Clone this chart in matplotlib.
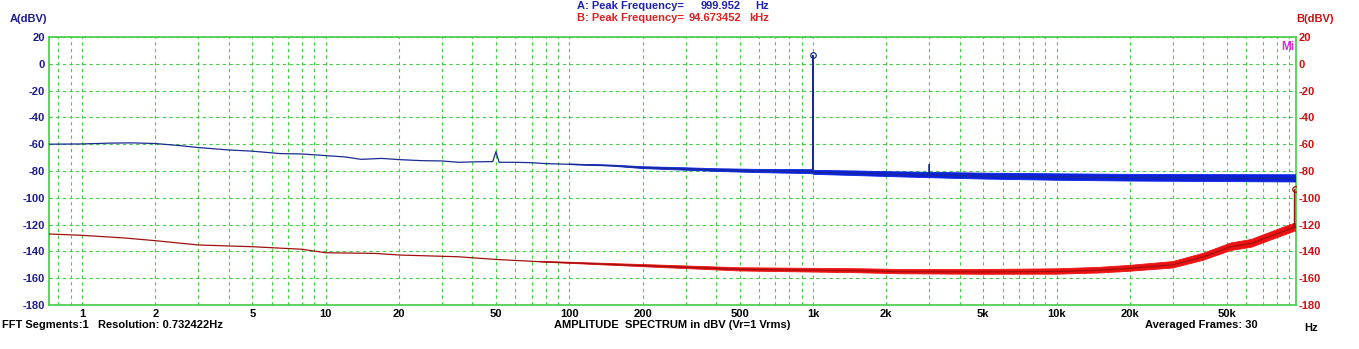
import matplotlib.pyplot as plt
import numpy as np

plt.rcParams['font.family'] = ['Liberation Sans', 'DejaVu Sans']
plt.rcParams['font.weight'] = 'bold'

# channel A (blue): frequency (Hz), level (dBV), noise spread (dB)
blue_freq = [0.732, 1.0, 1.3, 1.6, 2.0, 2.5, 3.0, 4.0, 5.0, 6.5, 8.0, 10, 12, 14, 17, 20,
             25, 30, 35, 40, 48.5, 50, 51.5, 60, 70, 80, 100, 150, 200, 300, 400, 600,
             997.0, 998.5, 999.2, 999.952, 1000.7, 1001.4, 1003.0, 1500, 2000, 2990,
             3000, 3010, 5000, 10000, 20000, 50000, 96000]
blue_level = [-60, -59.8, -59.2, -59.0, -59.5, -61, -62.5, -64.3, -65.2, -67, -67.3, -68.5,
              -69.5, -71.3, -70.6, -71.5, -72.3, -72.5, -73.5, -73.2, -73, -65.6, -73.5,
              -73.5, -73.8, -74.5, -75, -76, -77.5, -78.5, -79.3, -80,
              -80.5, -70, -33, 6.3, -33, -70, -81, -81.7, -82.3, -83,
              -75, -83, -83.8, -84.5, -85, -85.3, -85.5]
blue_spread = [0, 0, 0, 0, 0, 0, 0, 0, 0, 0, 0, 0, 0, 0, 0, 0,
               0, 0, 0, 0, 0, 0, 0, 0, 0, 0, 0.2, 0.4, 0.7, 0.9, 1.0, 1.2,
               1.5, 0, 0, 0, 0, 0, 1.5, 1.7, 1.8, 2.0,
               0, 2.0, 2.2, 2.4, 2.5, 2.6, 2.7]

# channel B (red)
red_freq = [0.732, 1.0, 1.5, 2.0, 3.0, 5.0, 8.0, 10, 16, 20, 35, 50, 76, 100, 200, 500,
            1500, 2300, 5000, 10000, 15000, 20000, 30000, 40000, 52000, 63000, 81000,
            94600, 94673.452, 94750, 96000]
red_level = [-127, -128, -130, -132, -135.2, -136.5, -138.4, -141, -141.5, -142.7, -144,
             -146, -147.7, -148.5, -150.6, -153.4, -154.4, -155.1, -155.3, -155, -154,
             -152.6, -150, -144, -136.5, -134, -126.5, -122, -93.7, -122, -122]
red_spread = [0, 0, 0, 0, 0, 0, 0, 0, 0, 0, 0, 0, 0.2, 0.4, 0.8, 1.2,
              1.5, 1.6, 1.8, 2.0, 2.1, 2.2, 2.4, 2.6, 2.8, 2.9, 3.0,
              3.0, 0, 3.0, 3.0]

peak_a = (999.952, 6.3)
peak_b = (94673.452, -93.7)

xtick_labels = {1: '1', 2: '2', 5: '5', 10: '10', 20: '20', 50: '50', 100: '100',
                200: '200', 500: '500', 1000: '1k', 2000: '2k', 5000: '5k',
                10000: '10k', 20000: '20k', 50000: '50k'}
yticks = list(range(-180, 21, 20))

W, H = 1359, 349
FS = 8
fig = plt.figure(figsize=(W / 100, H / 100), dpi=100)
ax = fig.add_axes([49 / W, 1 - 305 / H, (1296 - 49) / W, (305 - 37) / H])

green = '#44cc44'
navy = '#1c1c8c'
dred = '#cc1111'

# grid positions every 1..9 per decade
grid_x = [m * 10 ** e for e in range(-1, 5) for m in range(1, 10)]
grid_x = [g for g in grid_x if 0.75 < g < 96000]

ax.set_xscale('log')
ax.set_xlim(0.732422, 96000)
ax.set_ylim(-180, 20)
ax.set_xticks(grid_x)
ax.set_xticklabels([xtick_labels.get(g, '') for g in grid_x], fontsize=FS,
                   fontweight='bold', color='black')
ax.minorticks_off()
ax.set_yticks(yticks)
ax.set_yticklabels([str(v) for v in yticks], fontsize=FS, fontweight='bold', color=navy)
ax.tick_params(length=0, pad=3)
ax.tick_params(axis='x', pad=3)
ax.grid(True, color=green, ls=(0, (3, 3)), lw=0.8)
for s in ax.spines.values():
    s.set_color(green)
    s.set_linewidth(1.2)

bf = np.array(blue_freq)
bl = np.array(blue_level)
bs = np.array(blue_spread)
ax.fill_between(bf, bl - bs, bl + bs, where=bs > 0, color='#0a22e0', lw=0.6,
                edgecolor='#0a22e0', zorder=3)
ax.plot(bf, bl, color='#1a2a90', lw=0.9, zorder=4)

rf = np.array(red_freq)
rl = np.array(red_level)
rs = np.array(red_spread)
ax.fill_between(rf, rl - rs, rl + rs, where=rs > 0, color='#ee1111', lw=0.6,
                edgecolor='#ee1111', zorder=3)
ax.plot(rf, rl, color='#a01010', lw=0.9, zorder=4)

ax.plot(*peak_a, 'o', ms=4, mfc='none', mec='#1a2a90', mew=0.9, zorder=5)
ax.plot(*peak_b, 'o', ms=4, mfc='none', mec='#a01010', mew=0.9, zorder=5)

ax2 = ax.twinx()
ax2.set_ylim(-180, 20)
ax2.set_yticks(yticks)
ax2.set_yticklabels([str(v) for v in yticks], fontsize=FS, fontweight='bold', color=dred)
ax2.tick_params(length=0, pad=2)
for s in ax2.spines.values():
    s.set_visible(False)

ax.text(0.9985, 0.985, 'Mi', transform=ax.transAxes, ha='right', va='top',
        fontsize=8.5, fontweight='bold', color='#cc33cc')


def ftext(x, y, s, **kw):
    fig.text(x / W, 1 - y / H, s, fontsize=FS, fontweight='bold', va='center', **kw)


ftext(10, 19, 'A(dBV)', color=navy)
ftext(1296, 19, 'B(dBV)', color=dred)
ftext(577, 6, 'A: Peak Frequency=', color='#2020b0')
ftext(741, 6, '999.952', color='#2020b0', ha='right')
ftext(755, 6, 'Hz', color='#2020b0')
ftext(577, 18, 'B: Peak Frequency=', color='#dd2222')
ftext(741, 18, '94.673452', color='#dd2222', ha='right')
ftext(749, 18, 'kHz', color='#dd2222')
ftext(2, 325, 'FFT Segments:1   Resolution: 0.732422Hz', color='black')
ftext(672, 325, 'AMPLITUDE  SPECTRUM in dBV (Vr=1 Vrms)', color='black', ha='center')
ftext(1145, 325, 'Averaged Frames: 30', color='black')
ftext(1304, 328, 'Hz', color='black')

fig.savefig('out.png', dpi=100)
